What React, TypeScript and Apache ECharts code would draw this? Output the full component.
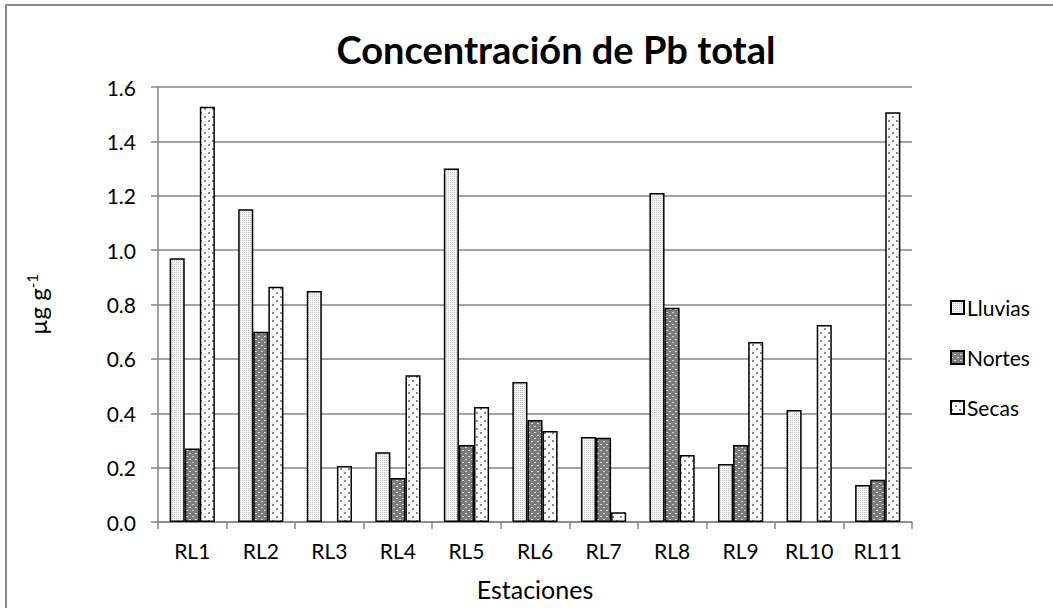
import React, { useEffect, useRef } from "react";
import * as echarts from "echarts";

const categories = ["RL1", "RL2", "RL3", "RL4", "RL5", "RL6", "RL7", "RL8", "RL9", "RL10", "RL11"];
const lluvias = [0.97, 1.15, 0.85, 0.257, 1.3, 0.515, 0.313, 1.21, 0.213, 0.412, 0.136];
const nortes = [0.27, 0.7, null, 0.162, 0.283, 0.375, 0.31, 0.788, 0.283, null, 0.155];
const secas = [1.527, 0.865, 0.206, 0.54, 0.423, 0.335, 0.036, 0.246, 0.662, 0.725, 1.507];
const yTicks = [0, 0.2, 0.4, 0.6, 0.8, 1.0, 1.2, 1.4, 1.6];

function makePattern(kind: string): any {
  const c = document.createElement("canvas");
  const ctx = c.getContext("2d")!;
  if (kind === "lluvias") {
    c.width = 4; c.height = 4;
    ctx.fillStyle = "#f4f4f4"; ctx.fillRect(0, 0, 4, 4);
    ctx.fillStyle = "#c4c4c4";
    ctx.fillRect(0, 0, 1, 1); ctx.fillRect(2, 2, 1, 1);
    ctx.fillRect(2, 0, 1, 1); ctx.fillRect(0, 2, 1, 1);
  } else if (kind === "nortes") {
    c.width = 6; c.height = 6;
    ctx.fillStyle = "#7c7c7c"; ctx.fillRect(0, 0, 6, 6);
    ctx.fillStyle = "#d8d8d8";
    ctx.fillRect(0, 0, 2, 1); ctx.fillRect(3, 3, 2, 1);
  } else {
    c.width = 8; c.height = 8;
    ctx.fillStyle = "#ffffff"; ctx.fillRect(0, 0, 8, 8);
    ctx.fillStyle = "#8c8c8c";
    ctx.fillRect(0, 0, 2, 2); ctx.fillRect(4, 4, 2, 2);
  }
  return { image: c, repeat: "repeat" };
}

export default function App() {
  const ref = useRef<HTMLDivElement>(null);
  useEffect(() => {
    const chart = echarts.init(ref.current!, null, { renderer: "svg" });
    const font = "Lato, 'Open Sans', sans-serif";
    const mk = (name: string, data: (number | null)[], kind: string) => ({
      name,
      type: "bar",
      data,
      barGap: "0%",
      barCategoryGap: "34%",
      itemStyle: { color: makePattern(kind), borderColor: "#000", borderWidth: 1.5 },
    });
    chart.setOption({
      animation: false,
      backgroundColor: "#fff",
      title: {
        text: "Concentración de Pb total",
        left: 551,
        textAlign: "center",
        top: 25,
        textStyle: { fontFamily: font, fontSize: 38, fontWeight: "bold", color: "#000" },
      },
      legend: {
        orient: "vertical",
        left: 945,
        top: 292,
        itemWidth: 13,
        itemHeight: 13,
        itemGap: 29,
        icon: "rect",
        textStyle: { fontFamily: font, fontSize: 21, color: "#000", padding: [0, 0, 0, -2] },
        data: ["Lluvias", "Nortes", "Secas"],
      },
      grid: { left: 158, right: 141, top: 87, bottom: 86, outerBoundsMode: "none", containLabel: false },
      xAxis: {
        type: "category",
        data: categories,
        name: "Estaciones",
        nameLocation: "middle",
        nameGap: 54,
        nameTextStyle: { fontFamily: font, fontSize: 25, color: "#000" },
        axisLine: { lineStyle: { color: "#868686", width: 1.5 } },
        axisTick: { show: true, length: 7, lineStyle: { color: "#868686", width: 1.5 } },
        axisLabel: { fontFamily: font, fontSize: 21, color: "#000", margin: 18 },
      },
      yAxis: {
        type: "value",
        min: 0,
        max: 1.6,
        interval: 0.2,
        name: "{a|µg g}{b|-1}",
        nameLocation: "middle",
        nameRotate: 90,
        nameGap: 107,
        nameTextStyle: {
          rich: {
            a: { fontFamily: font, fontSize: 24, color: "#000" },
            b: { fontFamily: font, fontSize: 15, color: "#000", verticalAlign: "top", padding: [0, 0, 12, 0] },
          },
        },
        axisLine: { show: true, lineStyle: { color: "#868686", width: 1.5 } },
        axisTick: { show: true, length: 7, lineStyle: { color: "#868686", width: 1.5 } },
        splitLine: { lineStyle: { color: "#868686", width: 1.5 } },
        axisLabel: {
          fontFamily: font,
          fontSize: 21,
          color: "#000",
          margin: 22,
          formatter: (v: number) => {
            const t = yTicks.find((x) => Math.abs(x - v) < 1e-6);
            return (t !== undefined ? t : v).toFixed(1);
          },
        },
      },
      graphic: [
        {
          type: "rect",
          shape: { x: 6, y: 5, width: 1100, height: 700 },
          style: { fill: "none", stroke: "#8a8a8a", lineWidth: 2 },
          silent: true,
        },
      ],
      series: [mk("Lluvias", lluvias, "lluvias"), mk("Nortes", nortes, "nortes"), mk("Secas", secas, "secas")],
    });
    return () => chart.dispose();
  }, []);
  return <div ref={ref} style={{ position: "absolute", left: 0, top: 0, width: 1053, height: 608 }} />;
}
